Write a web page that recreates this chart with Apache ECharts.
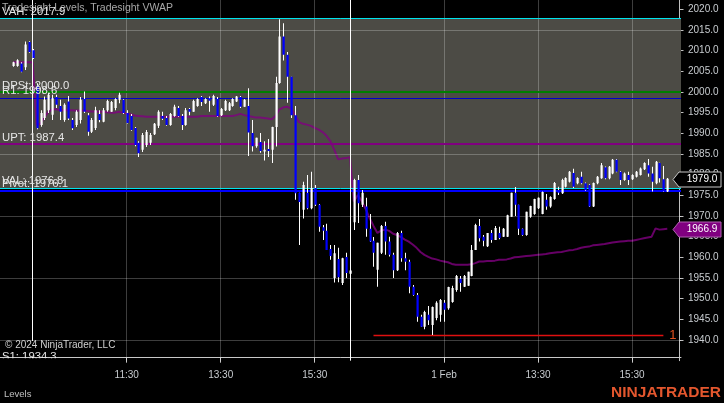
<!DOCTYPE html>
<html><head><meta charset="utf-8">
<script src="https://cdn.jsdelivr.net/npm/echarts@6/dist/echarts.min.js"></script>
<style>html,body{margin:0;padding:0;background:#000;overflow:hidden}#c{width:724px;height:403px}</style>
</head><body><div id="c"></div>
<script>
// ---- data (5-minute bars: [open, close, low, high]) ----
const ohlc = [
[2006.3,2007.2,2006.1,2007.3],[2006.3,2007.7,2006.1,2007.9],[2006.9,2004.9,2004.8,2007.2],[2006.0,2011.5,2005.3,2012.2],[2012.1,2009.7,2009.5,2012.3],[2010.1,2008.2,2008.0,2010.4],
[2001.5,1991.2,1991.0,2002.1],[1992.0,1994.9,1991.6,1995.6],[1993.7,1998.1,1993.2,1998.9],[1995.6,1999.3,1994.9,1999.8],[1994.5,1998.5,1993.2,1999.3],
[1998.8,1996.9,1996.1,1999.3],[1996.6,1995.2,1993.2,1998.1],[1993.2,1996.9,1992.8,1997.3],[1997.7,1993.6,1993.2,1999.0],[1993.2,1991.2,1990.8,1993.7],
[1992.0,1995.2,1991.5,1995.6],[1993.2,1998.1,1992.4,1998.8],[1998.3,1995.2,1994.9,2000.1],[1994.4,1990.4,1989.4,1994.9],[1990.4,1993.2,1990.1,1993.7],
[1991.3,1995.6,1990.8,1996.4],[1994.7,1993.2,1992.7,1995.6],[1992.8,1995.6,1992.7,1996.1],[1995.6,1997.8,1995.2,1998.1],[1995.2,1997.6,1995.2,1997.8],
[1996.1,1998.3,1995.6,1998.5],[1998.1,1999.3,1997.3,1999.8],[1998.1,1994.9,1994.7,1998.3],[1994.9,1992.5,1992.4,1995.6],[1994.2,1990.8,1990.6,1994.7],
[1991.3,1987.2,1986.9,1991.5],[1987.7,1985.2,1984.3,1988.1],[1986.0,1989.6,1985.5,1990.1],[1987.2,1990.3,1986.7,1990.8],[1987.7,1989.6,1987.2,1990.1],
[1989.8,1992.3,1989.6,1992.5],[1991.8,1995.2,1991.3,1995.6],[1994.2,1993.5,1993.2,1995.2],[1993.7,1992.0,1991.8,1994.2],[1992.0,1994.7,1991.8,1994.9],
[1994.2,1996.4,1994.0,1996.9],[1996.1,1994.2,1994.0,1996.6],[1994.2,1992.0,1990.8,1994.7],[1992.0,1995.6,1991.8,1996.1],[1995.9,1995.2,1994.4,1996.1],
[1995.2,1997.8,1995.2,1998.1],[1996.6,1998.3,1996.4,1998.5],[1998.8,1997.6,1996.6,1999.0],[1997.3,1998.3,1997.1,1998.5],[1998.5,1997.9,1995.2,1998.9],
[1996.9,1999.0,1996.6,1999.3],[1998.3,1994.2,1994.0,1998.8],[1994.4,1995.9,1994.2,1996.1],[1995.6,1997.8,1995.4,1998.1],[1995.6,1997.3,1995.4,1997.6],
[1996.6,1998.3,1996.4,1998.5],[1997.7,1998.9,1997.6,1999.0],[1998.8,1996.4,1996.1,1999.0],[1996.4,1998.1,1996.4,1998.3],[1996.6,1990.2,1984.5,2000.9],
[1990.1,1986.9,1985.6,1993.2],[1986.9,1988.9,1986.5,1988.9],[1987.9,1985.7,1985.3,1990.1],[1985.6,1986.0,1983.4,1988.1],[1986.2,1985.7,1984.3,1988.6],
[1986.0,1991.5,1982.8,1991.6],[1991.5,2002.2,1986.8,2003.7],[2002.2,2013.4,2002.0,2017.6],[2013.4,2009.0,2007.6,2016.6],[2009.0,2003.7,1997.4,2009.7],
[2003.7,1994.4,1993.7,2003.7],[1994.4,1975.5,1973.9,1996.6],[1975.6,1973.4,1963.0,1975.6],[1971.5,1977.5,1969.4,1978.3],[1975.6,1971.9,1971.6,1979.9],
[1971.9,1976.8,1971.6,1980.7],[1976.8,1972.7,1972.4,1977.5],[1972.7,1967.4,1966.2,1972.9],[1967.3,1966.4,1964.2,1967.8],[1966.4,1961.8,1961.8,1968.1],
[1962.0,1960.3,1959.4,1963.0],[1955.0,1961.0,1953.9,1963.0],[1959.6,1955.2,1954.0,1962.3],[1953.8,1959.8,1953.3,1959.9],[1960.1,1956.2,1955.0,1961.1],
[1956.0,1956.8,1955.8,1957.0],
[1968.5,1978.7,1966.6,1979.0],[1978.7,1973.1,1968.3,1979.9],[1972.7,1975.6,1972.2,1976.3],[1972.3,1966.9,1965.0,1974.4],[1966.9,1963.8,1963.7,1970.5],
[1964.0,1961.1,1957.7,1964.9],[1957.0,1963.5,1952.9,1963.5],[1961.1,1967.6,1960.8,1967.8],[1967.6,1963.8,1960.6,1968.6],[1963.8,1960.6,1960.2,1965.0],
[1960.6,1956.9,1955.0,1961.1],[1956.9,1965.9,1956.7,1966.1],[1965.9,1959.8,1958.9,1966.4],[1959.8,1958.9,1956.9,1961.1],[1958.9,1952.9,1951.3,1959.4],
[1952.9,1950.9,1950.7,1953.3],[1950.9,1945.6,1944.4,1951.4],[1945.6,1943.2,1943.2,1946.1],[1943.2,1946.8,1942.6,1947.1],[1946.1,1944.8,1943.6,1948.2],
[1943.6,1948.0,1941.2,1948.1],[1945.3,1949.0,1944.8,1949.4],[1946.1,1949.7,1944.4,1949.9],[1949.0,1947.3,1944.4,1949.7],[1947.7,1952.8,1947.3,1952.9],
[1949.2,1952.6,1949.0,1953.1],[1952.1,1955.5,1951.7,1955.7],[1954.8,1953.8,1951.7,1955.5],[1952.9,1955.5,1952.8,1955.7],[1953.1,1956.5,1953.1,1956.5],
[1955.5,1961.8,1955.4,1963.0],[1961.8,1967.8,1961.8,1968.1],[1967.6,1964.6,1963.8,1969.3],[1965.0,1964.0,1962.7,1965.4],[1962.7,1965.9,1962.5,1965.9],
[1965.9,1964.2,1963.5,1966.6],[1964.2,1967.1,1964.2,1967.6],[1965.9,1964.7,1964.4,1967.4],[1965.0,1966.9,1964.9,1967.1],[1965.0,1970.2,1964.9,1970.3],
[1969.8,1975.6,1969.8,1975.6],[1975.6,1972.7,1970.0,1977.0],[1972.7,1966.9,1965.4,1972.7],[1966.9,1965.4,1965.2,1967.0],[1965.4,1971.0,1965.2,1971.0],
[1969.8,1972.4,1969.6,1972.5],[1970.5,1974.1,1970.3,1974.2],[1971.9,1974.4,1971.7,1974.5],[1970.5,1975.8,1970.4,1975.9],[1973.9,1972.3,1971.5,1975.3],
[1972.3,1974.6,1972.0,1974.8],[1974.1,1978.0,1973.9,1978.2],[1976.3,1975.6,1975.1,1977.1],[1975.5,1978.7,1975.3,1979.0],[1977.1,1979.2,1976.9,1979.4],
[1978.3,1980.7,1978.1,1980.9],[1980.4,1977.1,1976.8,1981.4],[1977.9,1979.2,1977.7,1979.4],[1979.5,1977.9,1977.7,1980.7],[1977.9,1976.3,1976.1,1978.1],
[1977.5,1972.3,1972.2,1977.7],[1972.3,1978.0,1972.2,1978.1],[1977.9,1979.5,1977.7,1979.7],[1979.1,1982.3,1979.0,1982.8],[1981.8,1979.1,1978.9,1982.0],
[1979.1,1981.9,1978.9,1982.1],[1980.3,1983.6,1980.1,1983.8],[1983.6,1980.7,1980.6,1983.8],[1980.7,1978.7,1977.5,1980.9],[1978.7,1980.3,1978.5,1980.5],
[1979.9,1978.7,1977.5,1980.7],[1978.9,1979.9,1978.7,1980.1],[1979.5,1980.7,1979.3,1980.9],[1979.9,1981.5,1979.8,1981.7],[1981.3,1982.8,1981.1,1983.0],
[1982.3,1980.3,1979.5,1983.8],[1980.3,1978.3,1975.9,1981.9],[1977.9,1983.1,1977.7,1983.3],[1982.8,1979.1,1978.1,1982.9],[1978.9,1975.9,1975.8,1982.1],
[1975.9,1979.0,1975.8,1979.2]
];
const vwap = [
2007.2,2007.2,2007.2,2007.2,2007.2,2007.2,
1992.0,1992.3,1994.0,1995.2,1995.8,1995.8,1995.6,1995.6,1995.6,1995.6,1995.5,1995.5,1995.5,1995.4,1995.3,
1995.3,1995.2,1995.2,1995.1,1995.0,1995.0,1995.2,1995.0,1994.8,1994.6,1994.3,1994.2,1994.1,1994.0,1994.0,
1994.0,1994.0,1994.0,1994.0,1994.0,1994.0,1994.0,1994.0,1994.0,1994.0,1994.0,1994.0,
1994.2,1994.2,1994.2,1994.2,1994.2,1994.2,1994.2,1994.2,1994.2,1994.4,1994.7,1994.4,1994.2,1994.0,1993.8,
1993.8,1993.7,1993.6,1993.4,1994.2,1995.8,1996.3,1996.4,1996.0,1994.4,1992.7,1992.3,1992.1,1991.8,1991.3,
1990.9,1990.3,1989.4,1988.1,1986.0,1983.7,1983.9,1984.0,1984.2,
1973.5,1975.1,1973.6,1971.7,1969.5,1967.6,1965.9,1966.5,1966.7,1966.4,1965.7,1965.4,1964.9,1964.3,1963.8,
1963.1,1962.3,1961.3,1960.6,1960.1,1959.7,1959.5,1959.2,1959.0,1958.8,1958.4,1958.2,1958.2,1958.2,1958.2,
1958.3,1958.6,1959.0,1959.0,1959.1,1959.1,1959.2,1959.4,1959.4,1959.5,1959.7,1960.0,1960.1,1960.2,1960.3,
1960.4,1960.5,1960.6,1960.7,1960.8,1961.0,1961.1,1961.2,1961.3,1961.5,1961.7,1961.8,1962.0,1962.3,1962.5,
1962.6,1962.9,1963.0,1963.1,1963.2,1963.4,1963.6,1963.7,1963.8,1963.9,1964.0,1964.0,1964.2,1964.4,1964.6,
1964.8,1965.0,1967.0,1966.7,1966.8,1966.9
];
const tickBars = [29, 53, 77, 110, 134, 158];
const tickTexts = ['11:30', '13:30', '15:30', '1 Feb', '13:30', '15:30'];
const sessionBreakBars = [5, 86];
const gridPrices = [2015, 2000, 1985, 1970, 1955, 1940];
const levelNames = ['VAH', 'DPSt', 'R1', 'UPT', 'VAL', 'Pivot', 'S1'];
const levelValues = [2017.9, 2000.0, 1998.6, 1987.4, 1976.8, 1976.1, 1934.3];
const lowLineBars = [92, 166];
const lowLinePrice = 1941.2;
const lowLineText = '1';

// ---- chart ----
const PAD = 3;
const FONT = '"Liberation Sans", Arial, sans-serif';
const nCats = ohlc.length + 2 * PAD;
const categories = [];
for (let i = 0; i < nCats; i++) categories.push(String(i));
const labelMap = {};
tickBars.forEach((b, k) => { labelMap[b + PAD] = tickTexts[k]; });
const showTick = (idx) => labelMap[idx] !== undefined;

const levelStyle = {
  VAH: {color: '#00e5ee', width: 1},
  DPSt: {color: '#008000', width: 2},
  R1: {color: '#0000c8', width: 1},
  UPT: {color: '#800080', width: 2},
  VAL: {color: '#00e5ee', width: 1},
  Pivot: {color: '#0000ff', width: 2},
  S1: {color: '#0000ff', width: 2}
};
const lv = (n) => levelValues[levelNames.indexOf(n)];

function renderCandle(params, api) {
  const idx = api.value(0);
  const o = api.value(1), c = api.value(2), l = api.value(3), h = api.value(4);
  const x = Math.round(api.coord([idx, o])[0]);
  const yO = api.coord([idx, o])[1], yC = api.coord([idx, c])[1];
  const yL = api.coord([idx, l])[1], yH = api.coord([idx, h])[1];
  const top = Math.min(yO, yC), bot = Math.max(yO, yC);
  return {
    type: 'group',
    children: [
      {type: 'rect', shape: {x: x, y: yH, width: 1, height: Math.max(1, yL - yH)}, style: {fill: '#ffffff'}},
      {type: 'rect', shape: {x: x - 0.5, y: top, width: 2.2, height: Math.max(1, bot - top)}, style: {fill: c >= o ? '#ffffff' : '#0000ff'}}
    ]
  };
}

const chart = echarts.init(document.getElementById('c'));
chart.setOption({
  animation: false,
  backgroundColor: '#000000',
  grid: {left: -0.6, right: 43, top: 0, bottom: 42.33, containLabel: false, outerBoundsMode: 'none'},
  xAxis: {
    type: 'category', data: categories, boundaryGap: true, offset: -3,
    axisLine: {show: true, lineStyle: {color: '#c8c8c8', width: 1}},
    axisTick: {show: true, alignWithLabel: true, interval: showTick, length: 5, lineStyle: {color: '#c8c8c8'}},
    axisLabel: {interval: showTick, formatter: (v, i) => labelMap[i] || '', color: '#c8ccd0', fontSize: 10, fontFamily: FONT, margin: 13},
    splitLine: {show: false}
  },
  yAxis: {
    type: 'value', position: 'right', offset: -1.5, min: 1935, max: 2022.25, interval: 5, scale: true,
    axisLine: {show: true, lineStyle: {color: '#c0c0c0', width: 1}},
    axisTick: {show: true, length: 4, lineStyle: {color: '#c0c0c0'}},
    axisLabel: {showMinLabel: false, showMaxLabel: false, formatter: v => v.toFixed(1), color: '#c8ccd0', fontSize: 10, fontFamily: FONT, margin: 8.5},
    splitLine: {show: false}
  },
  series: [
    {type: 'line', data: [], z: 1, silent: true,
     markArea: {silent: true, itemStyle: {color: '#4c4b45'}, data: [[{yAxis: lv('VAH')}, {yAxis: lv('VAL')}]]}},
    {type: 'line', data: [], z: 2, silent: true,
     markLine: {silent: true, symbol: 'none', label: {show: false},
       lineStyle: {color: 'rgba(255,255,255,0.24)', width: 1, type: 'solid'},
       data: gridPrices.map(p => ({yAxis: p})).concat(tickBars.map(b => ({xAxis: b + PAD})))}},
    {type: 'line', data: [], z: 3, silent: true,
     markLine: {silent: true, symbol: 'none', label: {show: false},
       data: levelNames.map((n, k) => ({yAxis: levelValues[k], lineStyle: {color: levelStyle[n].color, width: levelStyle[n].width, type: 'solid'}}))}},
    {type: 'line', data: [], z: 3, silent: true,
     markLine: {silent: true, symbol: 'none', label: {show: false},
       lineStyle: {color: '#ffffff', width: 1, type: 'solid'},
       data: sessionBreakBars.map(b => ({xAxis: b + PAD}))}},
    {type: 'line', z: 4, silent: true, showSymbol: false, symbol: 'none',
     data: vwap.map((v, i) => [i + PAD, v]),
     lineStyle: {color: 'rgba(128,0,128,0.8)', width: 2}},
    {type: 'custom', z: 5, silent: true, clip: true, renderItem: renderCandle,
     encode: {x: 0, y: [1, 2, 3, 4]},
     data: ohlc.map((r, i) => [i + PAD, r[0], r[1], r[2], r[3]])},
    {type: 'line', data: [], z: 6, silent: true,
     markLine: {silent: true, symbol: 'none',
       lineStyle: {color: '#e01010', width: 1.4, type: 'solid'},
       label: {show: true, position: 'end', formatter: lowLineText, color: '#e0501e', fontSize: 13, fontFamily: FONT, distance: 6},
       data: [[{coord: [lowLineBars[0] + PAD, lowLinePrice]}, {coord: [lowLineBars[1] + PAD, lowLinePrice]}]]}}
  ]
});

// ---- overlay texts positioned through the axis scale ----
const py = v => chart.convertToPixel({yAxisIndex: 0}, v);
const g = [];
g.push({type: 'text', x: 2, y: 3, z: 40, style: {text: 'Tradesight Levels, Tradesight VWAP', fill: '#a8a8a8', font: '10.5px ' + FONT}});
const labelColors = '#e6e6e6';
levelNames.forEach((n, k) => {
  g.push({type: 'text', x: 2, y: py(levelValues[k]) - 1, z: 50,
    style: {text: n + ': ' + levelValues[k].toFixed(1), fill: labelColors, font: '11.3px ' + FONT, verticalAlign: 'bottom'}});
});
g.push({type: 'rect', z: 45, shape: {x: 0, y: 341, width: 116, height: 15.8}, style: {fill: '#000000'}});
g.push({type: 'text', x: 5, y: 340, z: 55, style: {text: '\u00A9 2024 NinjaTrader, LLC', fill: '#d0d0d0', font: '10px ' + FONT}});
g.push({type: 'rect', z: 60, shape: {x: 0, y: 358.3, width: 110, height: 10}, style: {fill: '#000000'}});
g.push({type: 'text', x: 4, y: 399, z: 60, style: {text: 'Levels', fill: '#c0c0c0', font: '9.5px ' + FONT, verticalAlign: 'bottom'}});
g.push({type: 'text', x: 721, y: 401, z: 60, style: {text: 'NINJATRADER', fill: '#e4572e', font: 'bold 15.5px ' + FONT, align: 'right', verticalAlign: 'bottom'}});

function priceTag(value, fill, stroke, textColor) {
  const cy = Math.round(py(value)) + 0.5;
  return {type: 'group', z: 70, children: [
    {type: 'polygon', z: 70, shape: {points: [[673, cy], [679, cy - 7.5], [721, cy - 7.5], [721, cy + 7.5], [679, cy + 7.5]]},
     style: {fill: fill, stroke: stroke, lineWidth: 1}},
    {type: 'text', z: 71, x: 702, y: cy, style: {text: value.toFixed(1), fill: textColor, font: '10px ' + FONT, align: 'center', verticalAlign: 'middle'}}
  ]};
}
g.push(priceTag(ohlc[ohlc.length - 1][1], '#000000', '#c8c8c8', '#ffffff'));
g.push(priceTag(vwap[vwap.length - 1], '#800080', '#b060b0', '#ffffff'));
chart.setOption({graphic: g});
</script></body></html>
